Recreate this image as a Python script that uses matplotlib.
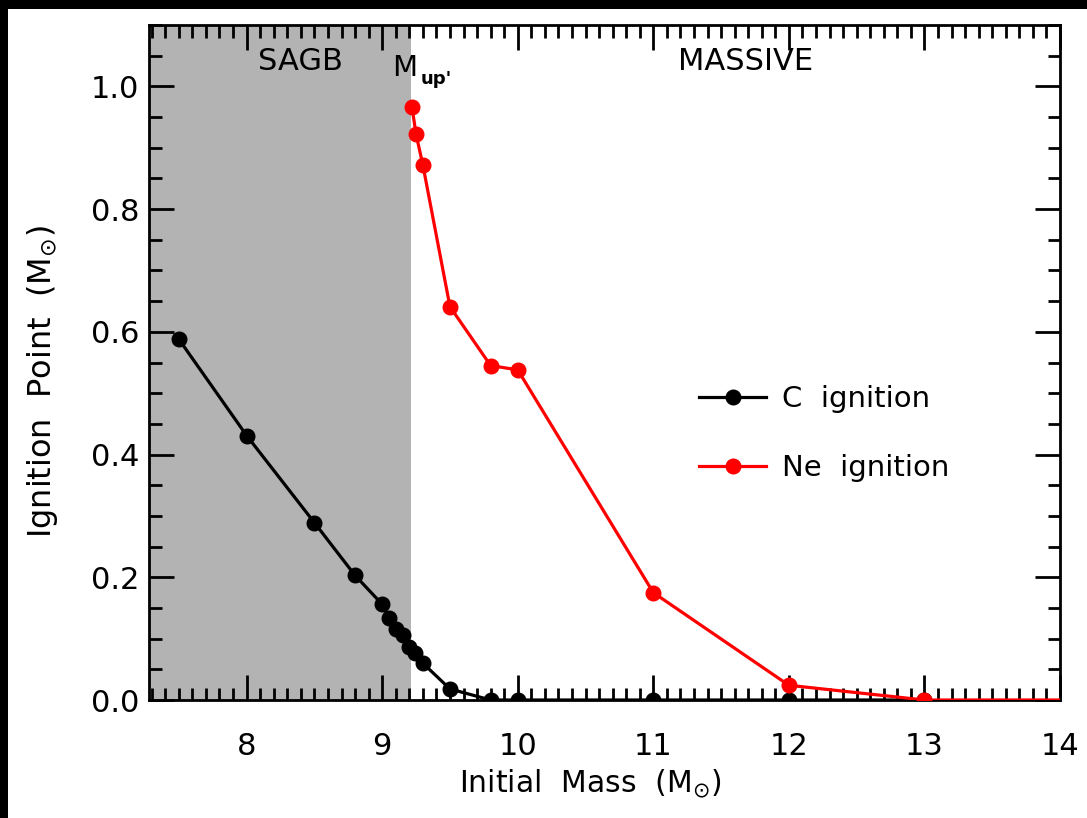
import matplotlib
matplotlib.use("Agg")
import matplotlib.pyplot as plt
from matplotlib.patches import Rectangle
from matplotlib.ticker import MultipleLocator

plt.rcParams['font.family'] = ['DejaVu Sans']
plt.rcParams['mathtext.fontset'] = 'dejavusans'

# Carbon ignition point vs initial mass
c_mass = [7.5, 8.0, 8.5, 8.8, 9.0, 9.05, 9.1, 9.15, 9.2, 9.24, 9.3, 9.5, 9.8, 10.0, 11.0, 12.0, 13.0]
c_ign = [0.588, 0.431, 0.289, 0.203, 0.156, 0.133, 0.115, 0.106, 0.086, 0.077, 0.060, 0.018, 0.0, 0.0, 0.0, 0.0, 0.0]

# Neon ignition point vs initial mass
ne_mass = [9.22, 9.25, 9.3, 9.5, 9.8, 10.0, 11.0, 12.0, 13.0, 14.0]
ne_ign = [0.966, 0.922, 0.872, 0.641, 0.545, 0.538, 0.175, 0.024, 0.0, 0.0]

m_up_prime = 9.21
x_min, x_max = 7.28, 14.0
y_min, y_max = 0.0, 1.1
x_ticks = [8, 9, 10, 11, 12, 13, 14]
y_ticks = [0.0, 0.2, 0.4, 0.6, 0.8, 1.0]

fig = plt.figure(figsize=(10.87, 8.18), dpi=100)
fig.patch.set_facecolor('white')
# dark frame strips along the top and left edges
fig.patches.append(Rectangle((0, 1 - 9 / 818), 1, 9 / 818, transform=fig.transFigure,
                             facecolor='black', edgecolor='none', zorder=0))
fig.patches.append(Rectangle((0, 0), 8 / 1087, 1, transform=fig.transFigure,
                             facecolor='black', edgecolor='none', zorder=0))

ax = fig.add_axes([149 / 1087, 118 / 818, 911 / 1087, 675 / 818])
ax.axvspan(x_min, m_up_prime, color='#b3b3b3', zorder=0, lw=0)

ax.plot(c_mass, c_ign, '-o', color='black', lw=2.3, ms=10.5, label='C  ignition', zorder=3)
ax.plot(ne_mass, ne_ign, '-o', color='#ff0000', lw=2.3, ms=10.5, label='Ne  ignition',
        markevery=list(range(len(ne_mass) - 1)), zorder=4)

ax.set_xlim(x_min, x_max)
ax.set_ylim(y_min, y_max)
ax.set_xticks(x_ticks)
ax.set_xticklabels([str(t) for t in x_ticks])
ax.set_yticks(y_ticks)
ax.set_yticklabels([f'{t:.1f}' for t in y_ticks])
ax.xaxis.set_minor_locator(MultipleLocator(0.1))
ax.yaxis.set_minor_locator(MultipleLocator(0.05))
ax.tick_params(which='both', direction='in', top=True, right=True, width=2, color='black')
ax.tick_params(which='major', length=18, labelsize=22)
ax.tick_params(axis='x', which='major', pad=23)
ax.tick_params(axis='y', which='major', pad=7)
ax.tick_params(which='minor', length=9)
for s in ax.spines.values():
    s.set_linewidth(2)

ax.set_xlabel(r'Initial  Mass  (M$_{\odot}$)', fontsize=21.5, labelpad=5)
ax.xaxis.set_label_coords(0.485, -0.1)
ax.xaxis.label.set_va('top')
ax.set_ylabel(r'Ignition  Point  (M$_{\odot}$)', fontsize=23)
ax.yaxis.set_label_coords(-0.098, 0.472)

ax.text(8.4, 1.04, 'SAGB', fontsize=22, ha='center', va='center')
ax.text(11.68, 1.04, 'MASSIVE', fontsize=22, ha='center', va='center')
ax.text(9.07, 1.03, 'M', fontsize=21, ha='left', va='center')
ax.text(9.28, 1.012, "up'", fontsize=13, fontweight='bold', ha='left', va='center')

leg = ax.legend(loc='center left', bbox_to_anchor=(0.575, 0.395), frameon=False,
                fontsize=21, handlelength=2.3, labelspacing=1.4, handletextpad=0.55)

fig.savefig('out.png', dpi=100, facecolor=fig.get_facecolor())
